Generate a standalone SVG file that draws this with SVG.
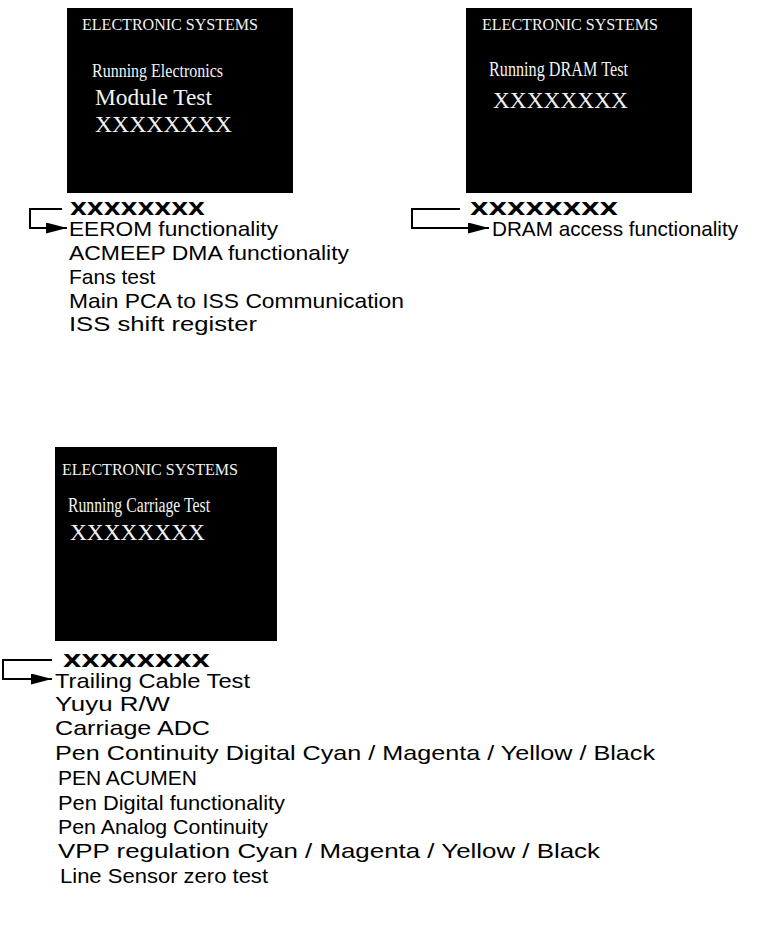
<svg xmlns="http://www.w3.org/2000/svg" width="764" height="952" viewBox="0 0 764 952">
<style>
.scr{fill:#000}
.hd{font-family:"Liberation Serif","Times New Roman",serif;font-size:16px;fill:#f2f2f2}
.sr{font-family:"Liberation Serif","Times New Roman",serif;fill:#f2f2f2}
.bx{font-family:"DejaVu Sans","Liberation Sans",sans-serif;font-weight:bold;font-size:18px;fill:#000}
.li{font-family:"Liberation Sans",Arial,sans-serif;font-size:21px;fill:#000}
.cn{fill:none;stroke:#000;stroke-width:2}
</style>
<defs>
<marker id="ah" markerUnits="userSpaceOnUse" markerWidth="21" markerHeight="11" refX="21" refY="5.5" orient="auto">
<path d="M0,0 L21,5.5 L0,11 z" fill="#000"/>
</marker>
</defs>
<rect width="764" height="952" fill="#fff"/>
<g id="screen-electronics">
<rect class="scr" x="67" y="8" width="226" height="185"/>
<text class="hd" x="82" y="30" textLength="176" lengthAdjust="spacingAndGlyphs">ELECTRONIC SYSTEMS</text>
<text class="sr" x="92" y="77" font-size="19" textLength="131" lengthAdjust="spacingAndGlyphs">Running Electronics</text>
<text class="sr" x="95" y="105" font-size="23" textLength="117" lengthAdjust="spacingAndGlyphs">Module Test</text>
<text class="sr" x="95" y="132" font-size="23" textLength="137" lengthAdjust="spacingAndGlyphs">XXXXXXXX</text>
</g>
<g id="screen-dram">
<rect class="scr" x="466" y="8" width="226" height="185"/>
<text class="hd" x="482" y="30" textLength="176" lengthAdjust="spacingAndGlyphs">ELECTRONIC SYSTEMS</text>
<text class="sr" x="489" y="76" font-size="20" textLength="139" lengthAdjust="spacingAndGlyphs">Running DRAM Test</text>
<text class="sr" x="493" y="108" font-size="23" textLength="135" lengthAdjust="spacingAndGlyphs">XXXXXXXX</text>
</g>
<g id="screen-carriage">
<rect class="scr" x="55" y="447" width="222" height="194"/>
<text class="hd" x="62" y="475" textLength="176" lengthAdjust="spacingAndGlyphs">ELECTRONIC SYSTEMS</text>
<text class="sr" x="68" y="512" font-size="20" textLength="142" lengthAdjust="spacingAndGlyphs">Running Carriage Test</text>
<text class="sr" x="70" y="540" font-size="23" textLength="135" lengthAdjust="spacingAndGlyphs">XXXXXXXX</text>
</g>
<g id="connectors">
<path class="cn" d="M62,209 H30 V228 H67" marker-end="url(#ah)"/>
<path class="cn" d="M460,209 H412 V228 H489" marker-end="url(#ah)"/>
<path class="cn" d="M52,660 H3 V679 H52" marker-end="url(#ah)"/>
</g>
<g id="list-electronics">
<text class="bx" x="70" y="215" textLength="135" lengthAdjust="spacingAndGlyphs">XXXXXXXX</text>
<text class="li" x="69" y="236" textLength="209" lengthAdjust="spacingAndGlyphs">EEROM functionality</text>
<text class="li" x="69" y="260" textLength="280" lengthAdjust="spacingAndGlyphs">ACMEEP DMA functionality</text>
<text class="li" x="69" y="284">Fans test</text>
<text class="li" x="69" y="308" textLength="335" lengthAdjust="spacingAndGlyphs">Main PCA to ISS Communication</text>
<text class="li" x="69" y="331" textLength="188" lengthAdjust="spacingAndGlyphs">ISS shift register</text>
</g>
<g id="list-dram">
<text class="bx" x="470" y="215" textLength="148" lengthAdjust="spacingAndGlyphs">XXXXXXXX</text>
<text class="li" x="492" y="236" textLength="246" lengthAdjust="spacingAndGlyphs">DRAM access functionality</text>
</g>
<g id="list-carriage">
<text class="bx" x="63" y="667" textLength="147" lengthAdjust="spacingAndGlyphs">XXXXXXXX</text>
<text class="li" x="55" y="688" textLength="195" lengthAdjust="spacingAndGlyphs">Trailing Cable Test</text>
<text class="li" x="55" y="711" textLength="115" lengthAdjust="spacingAndGlyphs">Yuyu R/W</text>
<text class="li" x="55" y="735" textLength="155" lengthAdjust="spacingAndGlyphs">Carriage ADC</text>
<text class="li" x="55" y="760" textLength="600" lengthAdjust="spacingAndGlyphs">Pen Continuity Digital Cyan / Magenta / Yellow / Black</text>
<text class="li" x="58" y="785">PEN ACUMEN</text>
<text class="li" x="58" y="810" textLength="227" lengthAdjust="spacingAndGlyphs">Pen Digital functionality</text>
<text class="li" x="58" y="834" textLength="210" lengthAdjust="spacingAndGlyphs">Pen Analog Continuity</text>
<text class="li" x="58" y="858" textLength="542" lengthAdjust="spacingAndGlyphs">VPP regulation  Cyan / Magenta / Yellow / Black</text>
<text class="li" x="60" y="883" textLength="208" lengthAdjust="spacingAndGlyphs">Line Sensor zero test</text>
</g>
</svg>
